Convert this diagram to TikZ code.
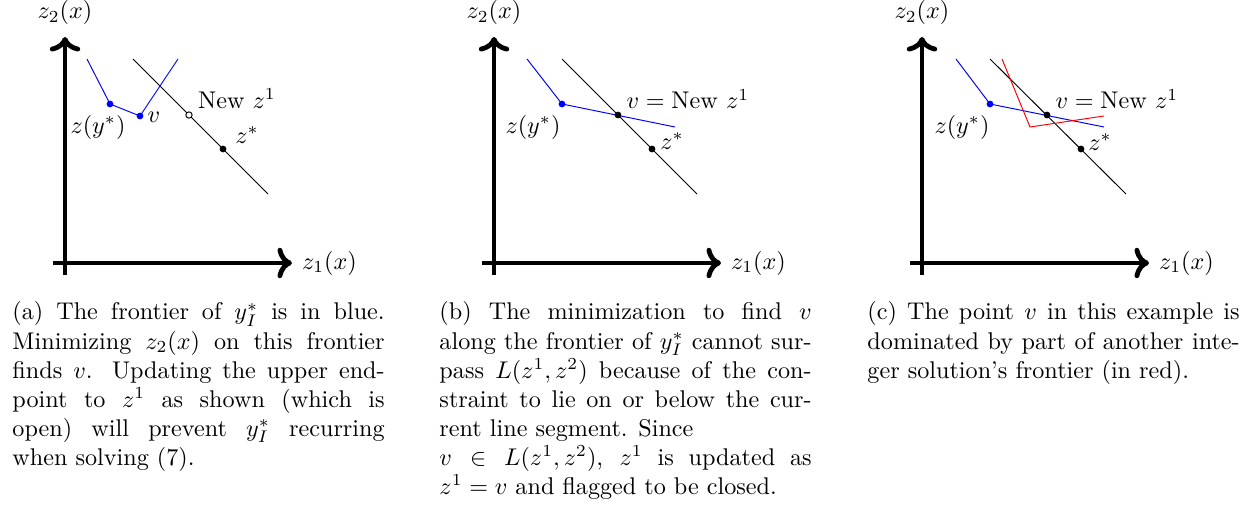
\documentclass[tikz,border=0pt]{standalone}
\usepackage{amsmath,amssymb}
\usepackage{tikz}
\usetikzlibrary{arrows.meta, calc, positioning}

\begin{document}
\begin{tikzpicture}[
    x=0.014541cm, y=0.014541cm,
    axis/.style={line width=2pt, ->},
    seg/.style={black},
    front/.style={blue},
    other/.style={red},
    dot/.style={circle, fill=black, inner sep=0pt, minimum size=2.8pt},
    bdot/.style={circle, fill=blue, inner sep=0pt, minimum size=2.8pt},
    odot/.style={circle, draw=black, fill=white, inner sep=0pt, minimum size=2.6pt},
    lab/.style={inner sep=0pt},
    captext/.style={text width=154pt, align=justify, inner sep=0pt, anchor=base west}]
    \useasboundingbox (0,0) rectangle (1260,505);

    % (a) frontier of y_I^* in blue
    \begin{scope}[shift={(65,242)}]
    \coordinate (xa0) at (-12,0);
    \coordinate (xa1) at (227,0);
    \coordinate (ya0) at (0,-12);
    \coordinate (ya1) at (0,226);
    \draw[axis] (xa0) -- (xa1);
    \draw[axis] (ya0) -- (ya1);
    \node[lab, right=4pt of xa1] (za1) {$z_1(x)$};
    \node[lab, above=5pt of ya1] (za2) {$z_2(x)$};
    \coordinate (sa0) at (68,204);
    \coordinate (sa1) at (203,69);
    \draw[seg] (sa0) -- (sa1);
    \coordinate (fa0) at (22,204);
    \coordinate (fa1) at (113,204);
    \node[bdot] (ya) at (45,159) {};
    \node[bdot] (va) at (75,147) {};
    \draw[front] (fa0) -- (ya.center) -- (va.center) -- (fa1);
    \node[odot] (na) at (124,148) {};
    \node[dot] (sa) at (158,114) {};
    \node[lab] (lya) at (33,136) {$z(y^*)$};
    \node[lab] (lva) at (89,146) {$v$};
    \node[lab] (lna) at (172,164) {New $z^1$};
    \node[lab] (lsa) at (182,128) {$z^*$};
    \end{scope}
    \node[captext] (capa) at (12,185) {(a) The frontier of $y_I^*$ is in blue. Minimizing $z_2(x)$ on this frontier finds $v$. Updating the upper endpoint to $z^1$ as shown (which is\linebreak open) will prevent $y_I^*$ recurring\linebreak when solving (7).};

    % (b) v lies on L(z^1,z^2)
    \begin{scope}[shift={(494,242)}]
    \coordinate (xb0) at (-12,0);
    \coordinate (xb1) at (227,0);
    \coordinate (yb0) at (0,-12);
    \coordinate (yb1) at (0,226);
    \draw[axis] (xb0) -- (xb1);
    \draw[axis] (yb0) -- (yb1);
    \node[lab, right=4pt of xb1] (zb1) {$z_1(x)$};
    \node[lab, above=5pt of yb1] (zb2) {$z_2(x)$};
    \coordinate (sb0) at (68,204);
    \coordinate (sb1) at (203,69);
    \draw[seg] (sb0) -- (sb1);
    \coordinate (fb0) at (33,204);
    \coordinate (fb1) at (181,136);
    \node[bdot] (yb) at (68,159) {};
    \draw[front] (fb0) -- (yb.center) -- (fb1);
    \node[dot] (vb) at (124,148) {};
    \node[dot] (sb) at (158,114) {};
    \node[lab] (lyb) at (39,136) {$z(y^*)$};
    \node[lab] (lvb) at (194,164) {$v = \mathrm{New}\ z^1$};
    \node[lab] (lsb) at (178,122) {$z^*$};
    \end{scope}
    \node[captext] (capb) at (439,185) {(b) The minimization to find $v$ along the frontier of $y_I^*$ cannot surpass $L(z^1,z^2)$ because of the constraint to lie on or below the current line segment. Since\newline $v \in L(z^1,z^2)$, $z^1$ is updated as\linebreak $z^1 = v$ and flagged to be closed.};

    % (c) another frontier in red
    \begin{scope}[shift={(922,242)}]
    \coordinate (xc0) at (-12,0);
    \coordinate (xc1) at (227,0);
    \coordinate (yc0) at (0,-12);
    \coordinate (yc1) at (0,226);
    \draw[axis] (xc0) -- (xc1);
    \draw[axis] (yc0) -- (yc1);
    \node[lab, right=4pt of xc1] (zc1) {$z_1(x)$};
    \node[lab, above=5pt of yc1] (zc2) {$z_2(x)$};
    \coordinate (sc0) at (68,204);
    \coordinate (sc1) at (204,69);
    \draw[seg] (sc0) -- (sc1);
    \coordinate (fc0) at (34,204);
    \coordinate (fc1) at (182,136);
    \node[bdot] (yc) at (68,159) {};
    \draw[front] (fc0) -- (yc.center) -- (fc1);
    \coordinate (rc0) at (80,204);
    \coordinate (rc1) at (108,136);
    \coordinate (rc2) at (182,147);
    \draw[other] (rc0) -- (rc1) -- (rc2);
    \node[dot] (vc) at (125,148) {};
    \node[dot] (sc) at (159,114) {};
    \node[lab] (lyc) at (40,136) {$z(y^*)$};
    \node[lab] (lvc) at (195,164) {$v = \mathrm{New}\ z^1$};
    \node[lab] (lsc) at (178,121) {$z^*$};
    \end{scope}
    \node[captext] (capc) at (867,185) {(c) The point $v$ in this example is dominated by part of another integer solution's frontier (in red).};
\end{tikzpicture}
\end{document}
